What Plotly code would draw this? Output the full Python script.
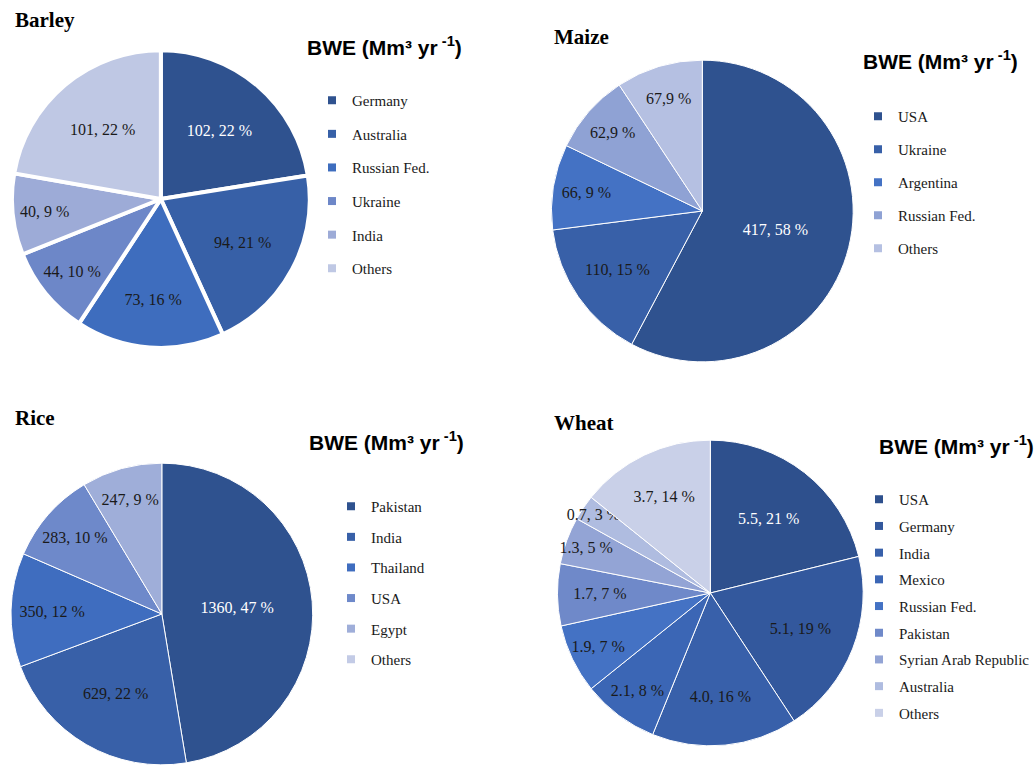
import plotly.graph_objects as go

W, H = 1035, 765

# ---- data -------------------------------------------------------------
barley_countries = ["Germany", "Australia", "Russian Fed.", "Ukraine", "India", "Others"]
barley_values = [102, 94, 73, 44, 40, 101]
barley_text = ["102, 22 %", "94, 21 %", "73, 16 %", "44, 10 %", "40, 9 %", "101, 22 %"]

maize_countries = ["USA", "Ukraine", "Argentina", "Russian Fed.", "Others"]
maize_values = [417, 110, 66, 62, 67]
maize_text = ["417, 58 %", "110, 15 %", "66, 9 %", "62,9 %", "67,9 %"]

rice_countries = ["Pakistan", "India", "Thailand", "USA", "Egypt", "Others"]
rice_values = [1360, 629, 350, 283, 247]
rice_text = ["1360, 47 %", "629, 22 %", "350, 12 %", "283, 10 %", "247, 9 %"]

wheat_countries = ["USA", "Germany", "India", "Mexico", "Russian Fed.", "Pakistan",
                   "Syrian Arab Republic", "Australia", "Others"]
wheat_values = [5.5, 5.1, 4.0, 2.1, 1.9, 1.7, 1.3, 0.7, 3.7]
wheat_text = ["5.5, 21 %", "5.1, 19 %", "4.0, 16 %", "2.1, 8 %", "1.9, 7 %", "1.7, 7 %",
              "1.3, 5 %", "0.7, 3 %", "3.7, 14 %"]

# ---- colours ----------------------------------------------------------
barley_colors = ["#2F528F", "#3760A7", "#3E6DBE", "#6D87C8", "#9DABD7", "#BFC8E4"]
maize_colors = ["#2F528F", "#3860A8", "#4472C4", "#8FA2D4", "#B5C0E2"]
rice_colors = ["#2F528F", "#3860A8", "#3F6DBF", "#6E89CA", "#9FAED9", "#C3CBE6"]
wheat_colors = ["#2E508D", "#33589D", "#3860AA", "#3B66B5", "#4472C4", "#6F89C9",
                "#93A4D5", "#AFBCE0", "#C9D0E8"]


def px_x(v):
    return v / W


def px_y(v):
    return 1 - v / H


def domain(cx, cy, r):
    return dict(x=[px_x(cx - r), px_x(cx + r)], y=[max(0, px_y(cy + r)), px_y(cy - r)])


fig = go.Figure()

pies = [
    # name, values, text, colors, centre x, centre y, radius, border width, legend id
    ("Barley", barley_values, barley_text, barley_colors, 161, 199, 149, 4, "legend"),
    ("Maize", maize_values, maize_text, maize_colors, 703, 211, 151, 1, "legend2"),
    ("Rice", rice_values, rice_text, rice_colors, 162, 614, 151, 1, "legend3"),
    ("Wheat", wheat_values, wheat_text, wheat_colors, 711, 593, 153, 1, "legend4"),
]
country_lists = {"Barley": barley_countries, "Maize": maize_countries,
                 "Rice": rice_countries, "Wheat": wheat_countries}

for name, vals, txt, cols, cx, cy, r, bw, leg in pies:
    labels = country_lists[name][:len(vals)]
    txt_colors = ["white"] + ["#1a1a1a"] * (len(vals) - 1)
    fig.add_trace(go.Pie(
        labels=labels, values=vals, text=txt, textinfo="text",
        textposition="inside", insidetextorientation="horizontal",
        textfont=dict(family="Liberation Serif", size=16, color=txt_colors),
        marker=dict(colors=cols[:len(vals)], line=dict(color="white", width=bw)),
        sort=False, direction="clockwise", rotation=0,
        domain=domain(cx, cy, r), showlegend=False, hoverinfo="label+value+percent",
    ))

# legend swatches, one group per country so the item spacing can be set
for name, vals, txt, cols, cx, cy, r, bw, leg in pies:
    for i, c in enumerate(country_lists[name]):
        fig.add_trace(go.Scatter(
            x=[None], y=[None], mode="markers", name=c,
            marker=dict(symbol="square", size=8, color=cols[i]),
            legend=leg, legendgroup=f"{name}-{i}", showlegend=True,
        ))

# legend placement: (text left px, first item centre px, item pitch px)
legend_pos = {
    "legend": (352, 101, 33.6),
    "legend2": (898, 117, 33.0),
    "legend3": (371, 507, 30.6),
    "legend4": (900, 500, 26.7),
}
item_h = 22.5
for key, (tx, ty, pitch) in legend_pos.items():
    fig.update_layout({key: dict(
        x=px_x(tx - 40), y=px_y(ty - 17), xanchor="left", yanchor="top",
        traceorder="grouped", tracegroupgap=pitch - item_h,
        font=dict(family="Liberation Serif", size=15, color="#1a1a1a"),
        bgcolor="rgba(0,0,0,0)", borderwidth=0,
    )})

annotations = []
# crop titles
for title, x, y in [("Barley", 13, 20), ("Maize", 553, 37), ("Rice", 13, 418), ("Wheat", 553, 423)]:
    annotations.append(dict(
        text=f"<b>{title}</b>", x=px_x(x), y=px_y(y), xref="paper", yref="paper",
        xanchor="left", yanchor="middle", showarrow=False,
        font=dict(family="Liberation Serif", size=21, color="black"),
    ))
# unit headers above each legend
for x, y in [(385, 46), (941, 60), (387, 441), (957, 445)]:
    annotations.append(dict(
        text="<b>BWE (Mm³ yr<sup> -1</sup>)</b>", x=px_x(x), y=px_y(y),
        xref="paper", yref="paper", xanchor="center", yanchor="middle", showarrow=False,
        font=dict(family="Liberation Sans", size=21, color="black"),
    ))

fig.update_layout(
    width=W, height=H, margin=dict(l=0, r=0, t=0, b=0),
    paper_bgcolor="white", plot_bgcolor="white",
    xaxis=dict(visible=False), yaxis=dict(visible=False),
    uniformtext=dict(minsize=16, mode="show"),
    annotations=annotations,
)

fig.write_html("out.html")
